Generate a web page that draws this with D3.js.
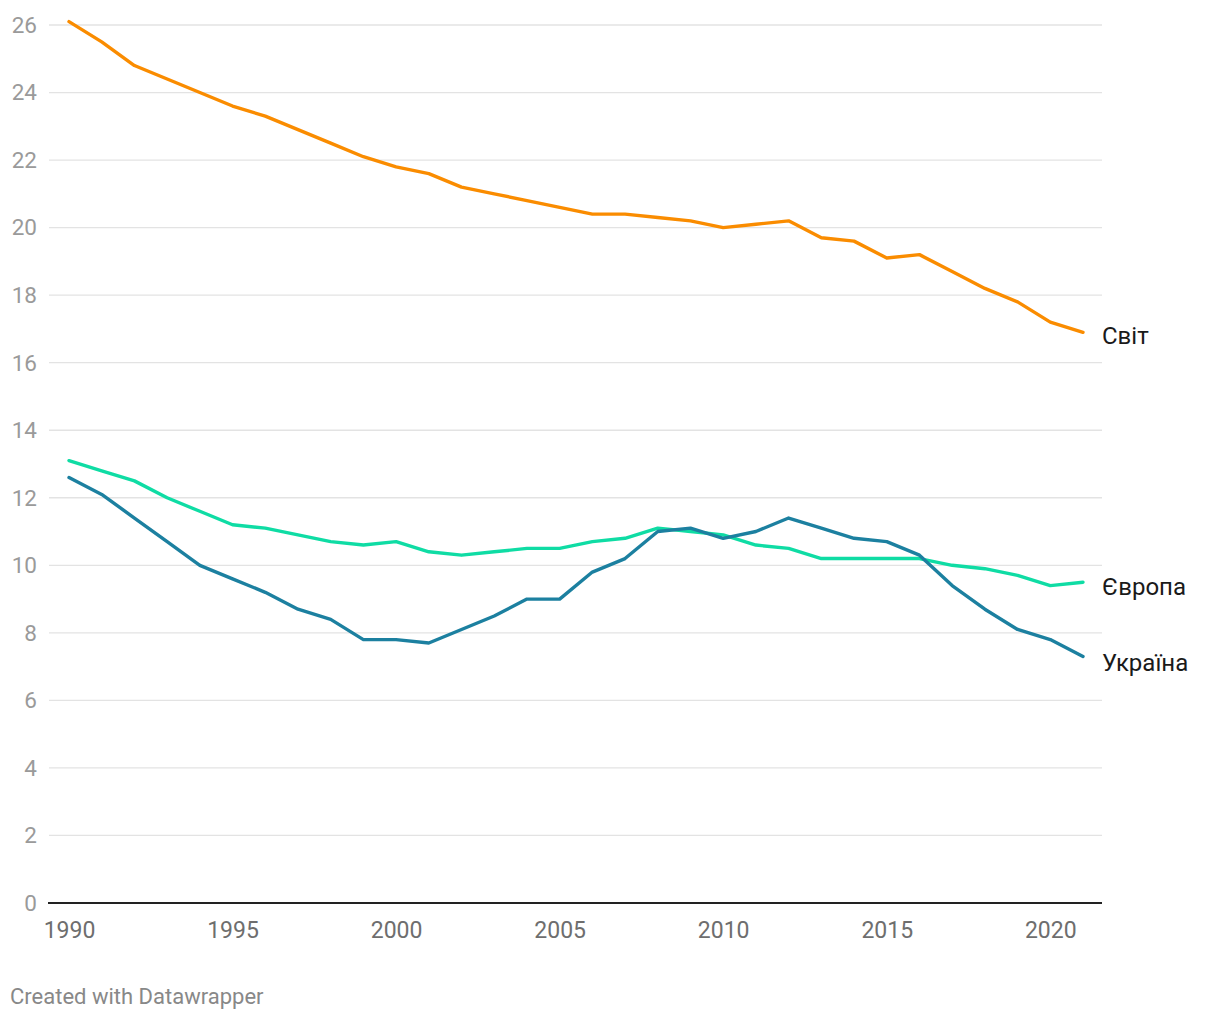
<!DOCTYPE html>
<html><head><meta charset="utf-8">
<script src="https://cdn.jsdelivr.net/npm/d3@7"></script>
<style>body{margin:0;background:#fff;font-family:Roboto,"Noto Sans",sans-serif;}</style>
</head><body><svg id="c" width="1220" height="1020"></svg>
<script>
const years = d3.range(1990, 2022);
const world = [26.1,25.5,24.8,24.4,24.0,23.6,23.3,22.9,22.5,22.1,21.8,21.6,21.2,21.0,20.8,20.6,20.4,20.4,20.3,20.2,20.0,20.1,20.2,19.7,19.6,19.1,19.2,18.7,18.2,17.8,17.2,16.9];
const europe = [13.1,12.8,12.5,12.0,11.6,11.2,11.1,10.9,10.7,10.6,10.7,10.4,10.3,10.4,10.5,10.5,10.7,10.8,11.1,11.0,10.9,10.6,10.5,10.2,10.2,10.2,10.2,10.0,9.9,9.7,9.4,9.5];
const ukraine = [12.6,12.1,11.4,10.7,10.0,9.6,9.2,8.7,8.4,7.8,7.8,7.7,8.1,8.5,9.0,9.0,9.8,10.2,11.0,11.1,10.8,11.0,11.4,11.1,10.8,10.7,10.3,9.4,8.7,8.1,7.8,7.3];
const seriesNames = ["Світ","Європа","Україна"];
const seriesColors = ["#fa8c00","#0fdca4","#1c80a0"];
const yTicks = [0,2,4,6,8,10,12,14,16,18,20,22,24,26];
const xTicks = [1990,1995,2000,2005,2010,2015,2020];
const labelDy = [3,4,6];

const svg = d3.select("#c");
const x = d3.scaleLinear().domain([1990,2021]).range([69,1083]);
const y = d3.scaleLinear().domain([0,26]).range([903,25]);

svg.append("g").selectAll("line").data(yTicks.filter(d=>d>0)).join("line")
  .attr("x1",49).attr("x2",1102).attr("y1",d=>y(d)).attr("y2",d=>y(d))
  .attr("stroke","#e3e3e3").attr("stroke-width",1.3);
svg.append("g").selectAll("text").data(yTicks).join("text")
  .attr("x",37).attr("y",d=>y(d)).attr("dy","0.35em").attr("text-anchor","end")
  .attr("fill","#9a9a9a").attr("font-size",22.5).text(d=>d);
svg.append("line").attr("x1",48).attr("x2",1102).attr("y1",y(0)).attr("y2",y(0))
  .attr("stroke","#222").attr("stroke-width",2);
const xAxis = d3.axisBottom(x).tickValues(xTicks).tickFormat(d3.format("d")).tickSize(0).tickPadding(0);
const gx = svg.append("g").attr("transform",`translate(0,${y(0)})`).call(xAxis);
gx.select(".domain").remove();
gx.selectAll("text").attr("fill","#6e6e6e").attr("font-size",23).attr("font-family","Roboto,sans-serif").attr("dy","0").attr("y",35);

const data = [world, europe, ukraine];
const line = d3.line().x((d,i)=>x(years[i])).y(d=>y(d));
data.forEach((s,k)=>{
  svg.append("path").attr("d",line(s)).attr("fill","none")
    .attr("stroke",seriesColors[k]).attr("stroke-width",3.4).attr("stroke-linejoin","round").attr("stroke-linecap","round");
  svg.append("text").attr("x",1102).attr("y",y(s[s.length-1])+labelDy[k]).attr("dy","0.35em")
    .attr("fill","#1a1a1a").attr("font-size",24).text(seriesNames[k]);
});

svg.append("text").attr("x",10).attr("y",1004).attr("fill","#888").attr("font-size",22).text("Created with Datawrapper");
</script></body></html>
